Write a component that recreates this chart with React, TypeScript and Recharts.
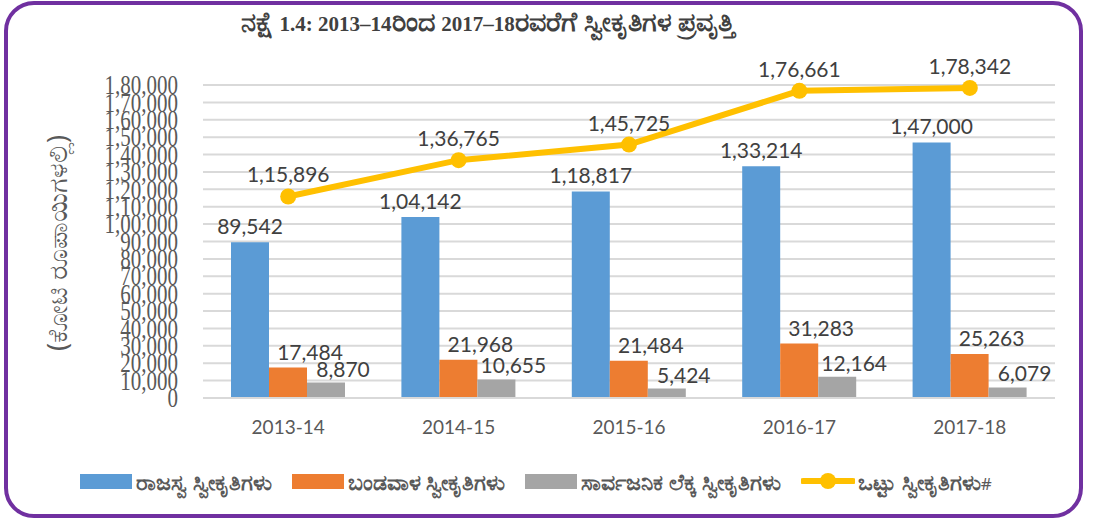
import { ComposedChart, Bar, Line, XAxis, YAxis, CartesianGrid, LabelList } from 'recharts';

const categories = ['2013-14', '2014-15', '2015-16', '2016-17', '2017-18'];
const revenueReceipts = [89542, 104142, 118817, 133214, 147000];
const capitalReceipts = [17484, 21968, 21484, 31283, 25263];
const publicAccountReceipts = [8870, 10655, 5424, 12164, 6079];
const totalReceipts = [115896, 136765, 145725, 176661, 178342];
const yTicks = [0, 10000, 20000, 30000, 40000, 50000, 60000, 70000, 80000, 90000, 100000, 110000, 120000, 130000, 140000, 150000, 160000, 170000, 180000];

const TITLE = 'ನಕ್ಷೆ 1.4: 2013–14ರಿಂದ 2017–18ರವರೆಗೆ ಸ್ವೀಕೃತಿಗಳ ಪ್ರವೃತ್ತಿ';
const Y_LABEL = '(ಕೋಟಿ ರೂಪಾಯಿಗಳಲ್ಲಿ)';

const SERIES = [
  { key: 'revenue', name: 'ರಾಜಸ್ವ ಸ್ವೀಕೃತಿಗಳು', color: '#5B9BD5', type: 'bar' },
  { key: 'capital', name: 'ಬಂಡವಾಳ ಸ್ವೀಕೃತಿಗಳು', color: '#ED7D31', type: 'bar' },
  { key: 'publicAccount', name: 'ಸಾರ್ವಜನಿಕ ಲೆಕ್ಕ ಸ್ವೀಕೃತಿಗಳು', color: '#A5A5A5', type: 'bar' },
  { key: 'total', name: 'ಒಟ್ಟು ಸ್ವೀಕೃತಿಗಳು#', color: '#FFC000', type: 'line' },
];

// indian digit grouping: 1,80,000
function fmtIN(v: number) {
  const s = String(Math.round(v));
  if (s.length <= 3) return s;
  const last3 = s.slice(-3);
  let rest = s.slice(0, -3);
  const parts: string[] = [];
  while (rest.length > 2) {
    parts.unshift(rest.slice(-2));
    rest = rest.slice(0, -2);
  }
  if (rest) parts.unshift(rest);
  return parts.join(',') + ',' + last3;
}

// kannada glyphs come out small in the fallback font, so bump those runs up
function KnText({ text, base, kn, plainStyle }: { text: string; base: number; kn: number; plainStyle?: any }) {
  const runs = text.split(/([\u0C80-\u0CFF][\u0C80-\u0CFF\s]*)/).filter((r) => r !== '');
  return (
    <>
      {runs.map((r, i) =>
        /[\u0C80-\u0CFF]/.test(r) ? (
          <span key={i} style={{ fontSize: kn }}>{r}</span>
        ) : (
          <span key={i} style={{ fontSize: base, ...plainStyle }}>{r}</span>
        )
      )}
    </>
  );
}

const data = categories.map((c, i) => ({
  year: c,
  revenue: revenueReceipts[i],
  capital: capitalReceipts[i],
  publicAccount: publicAccountReceipts[i],
  total: totalReceipts[i],
}));

const LABEL_FONT = 'Lato, "Open Sans", sans-serif';

function YTick(props: any) {
  const { x, y, payload } = props;
  return (
    <text
      transform={`translate(${x},${y}) scale(1,1.25)`}
      textAnchor="end"
      dy="0.35em"
      fontFamily='"Liberation Serif", serif'
      fontSize={21}
      fill="#595959"
    >
      {fmtIN(payload.value)}
    </text>
  );
}

export default function App() {
  return (
    <div style={{ position: 'relative', width: 1096, height: 524, background: '#fff', overflow: 'hidden' }}>
      <style>{`body{margin:0}`}</style>
      <div
        style={{
          position: 'absolute', left: 4, top: 1, width: 1079, height: 517,
          border: '4px solid #7030A0', borderRadius: 30, boxSizing: 'border-box',
        }}
      />
      <div
        style={{
          position: 'absolute', left: 0, width: 975, top: 6, textAlign: 'center', whiteSpace: 'nowrap',
          fontFamily: '"Liberation Serif", serif', fontWeight: 'bold', color: '#404040', lineHeight: '32px',
        }}
      >
        <KnText text={TITLE} base={21} kn={27} />
      </div>
      <div
        style={{
          position: 'absolute', left: 56, top: 243, transform: 'translate(-50%,-50%) rotate(-90deg)',
          whiteSpace: 'nowrap', fontFamily: '"Noto Sans", sans-serif', fontSize: 27, color: '#595959',
        }}
      >
        {Y_LABEL}
      </div>
      <div style={{ position: 'absolute', left: 0, top: 0 }}>
        <ComposedChart
          width={1096}
          height={524}
          data={data}
          margin={{ top: 85, right: 41, bottom: 86, left: 0 }}
          barGap={0}
        >
          <CartesianGrid vertical={false} stroke="#D9D9D9" strokeWidth={2} />
          <XAxis
            dataKey="year"
            height={40}
            axisLine={{ stroke: '#D9D9D9', strokeWidth: 2 }}
            tickLine={false}
            tickMargin={17}
            tick={{ fill: '#595959', fontSize: 19, fontFamily: LABEL_FONT }}
          />
          <YAxis
            width={203}
            domain={[0, 180000]}
            ticks={yTicks}
            interval={0}
            axisLine={false}
            tickLine={false}
            tickMargin={19}
            tick={<YTick />}
          />
          <Bar dataKey="revenue" fill="#5B9BD5" barSize={38} isAnimationActive={false}>
            <LabelList dataKey="revenue" position="top" offset={8} formatter={(v: any) => fmtIN(Number(v))}
              style={{ fill: '#404040', fontSize: 21, fontFamily: LABEL_FONT }} />
          </Bar>
          <Bar dataKey="capital" fill="#ED7D31" barSize={38} isAnimationActive={false}>
            <LabelList dataKey="capital" position="top" offset={8} dx={22} formatter={(v: any) => fmtIN(Number(v))}
              style={{ fill: '#404040', fontSize: 21, fontFamily: LABEL_FONT }} />
          </Bar>
          <Bar dataKey="publicAccount" fill="#A5A5A5" barSize={38} isAnimationActive={false}>
            <LabelList dataKey="publicAccount" position="top" offset={6} dx={17} formatter={(v: any) => fmtIN(Number(v))}
              style={{ fill: '#404040', fontSize: 21, fontFamily: LABEL_FONT }} />
          </Bar>
          <Line
            dataKey="total"
            stroke="#FFC000"
            strokeWidth={6}
            dot={{ r: 8, fill: '#FFC000', stroke: 'none' }}
            activeDot={false}
            isAnimationActive={false}
          >
            <LabelList dataKey="total" position="top" offset={14} formatter={(v: any) => fmtIN(Number(v))}
              style={{ fill: '#404040', fontSize: 21, fontFamily: LABEL_FONT }} />
          </Line>
        </ComposedChart>
      </div>
      <div
        style={{
          position: 'absolute', left: 80, top: 468, height: 26, display: 'flex', alignItems: 'center',
          fontFamily: '"Noto Sans", sans-serif', fontWeight: 'bold', color: '#595959', whiteSpace: 'nowrap',
        }}
      >
        {SERIES.map((s) => (
          <div key={s.key} style={{ display: 'flex', alignItems: 'center', marginRight: 20 }}>
            {s.type === 'bar' ? (
              <span style={{ display: 'inline-block', width: 52, height: 15, background: s.color, marginRight: 4 }} />
            ) : (
              <svg width={54} height={18} style={{ marginRight: 3 }}>
                <line x1={2} y1={9} x2={52} y2={9} stroke={s.color} strokeWidth={6} strokeLinecap="round" />
                <circle cx={27} cy={9} r={8} fill={s.color} />
              </svg>
            )}
            <span>
              <KnText text={s.name} base={17} kn={22} plainStyle={{ fontWeight: 'normal' }} />
            </span>
          </div>
        ))}
      </div>
    </div>
  );
}
